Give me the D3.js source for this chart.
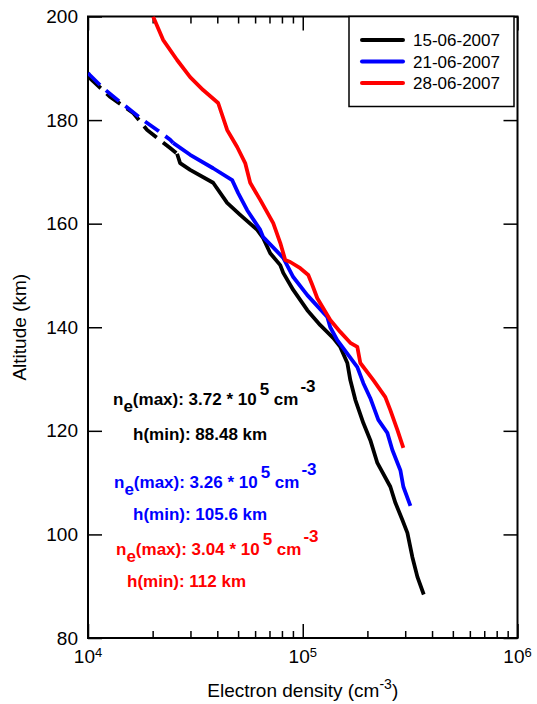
<!DOCTYPE html>
<html>
<head>
<meta charset="utf-8">
<script src="https://cdn.jsdelivr.net/npm/d3@7/dist/d3.min.js"></script>
<style>
  html, body { margin: 0; padding: 0; background: #fff; }
  svg { display: block; font-family: "Liberation Sans", Arial, sans-serif; }
</style>
</head>
<body>
<svg id="chart" width="537" height="704"></svg>
<script>
// ---------------- DATA ----------------
const dates = ["15-06-2007", "21-06-2007", "28-06-2007"];
const colors = ["#000000", "#0000ff", "#ff0000"];

// 15-06-2007 (black): dashed part then solid part
const ne15Dashed = [1.00e4, 1.02e4, 1.266e4, 1.621e4, 1.884e4, 2.412e4, 2.599e4];
const h15Dashed  = [188.3, 188.1, 184.5, 181.4, 178.1, 174.6, 173.5];
const ne15 = [2.599e4, 2.685e4, 2.990e4, 3.826e4, 4.446e4, 5.112e4, 6.137e4, 6.545e4, 7.056e4, 7.856e4,
              8.113e4, 9.03e4, 1.050e5, 1.207e5, 1.388e5, 1.495e5, 1.613e5, 1.665e5, 1.757e5, 1.915e5,
              2.064e5, 2.225e5, 2.558e5, 2.700e5, 2.911e5, 3.071e5, 3.240e5, 3.419e5, 3.66e5];
const h15  = [173.5, 171.7, 170.4, 167.9, 164.0, 161.7, 158.8, 157.2, 154.3, 152.0,
              150.5, 147.2, 143.3, 140.4, 137.9, 136.2, 133.1, 129.8, 126.0, 121.5,
              118.2, 113.8, 109.2, 106.1, 102.8, 100.3, 95.6, 91.8, 88.4];

// 21-06-2007 (blue)
const ne21Dashed = [1.00e4, 1.02e4, 1.175e4, 1.410e4, 1.805e4, 2.098e4, 2.412e4, 2.491e4];
const h21Dashed  = [189.1, 188.7, 186.2, 183.5, 180.0, 178.1, 176.2, 175.6];
const ne21 = [2.491e4, 2.990e4, 3.826e4, 4.692e4, 5.005e4, 5.512e4, 6.339e4, 6.545e4, 8.113e4, 9.03e4,
              1.050e5, 1.301e5, 1.343e5, 1.448e5, 1.795e5, 1.915e5, 2.064e5, 2.249e5, 2.477e5, 2.614e5,
              2.848e5, 2.941e5, 3.172e5];
const h21  = [175.6, 173.3, 170.7, 168.4, 165.9, 162.6, 158.8, 157.4, 153.4, 149.7,
              146.2, 142.0, 140.0, 137.5, 132.3, 129.2, 126.3, 122.1, 119.6, 116.3,
              112.4, 109.2, 105.5];

// 28-06-2007 (red)
const ne28 = [2.009e4, 2.237e4, 2.599e4, 2.990e4, 3.437e4, 4.037e4, 4.446e4, 4.950e4, 5.395e4, 5.692e4,
              6.339e4, 7.287e4, 7.856e4, 8.288e4, 8.745e4, 9.734e4, 1.061e5, 1.107e5, 1.169e5, 1.343e5,
              1.495e5, 1.665e5, 1.795e5, 1.854e5, 2.132e5, 2.424e5, 2.558e5, 2.758e5, 2.941e5];
const h28  = [200.0, 195.5, 191.6, 188.3, 185.8, 183.3, 178.1, 174.8, 171.7, 167.9,
              164.6, 160.1, 156.3, 153.0, 152.6, 151.4, 150.1, 148.2, 145.6, 141.4,
              139.1, 137.0, 136.2, 133.1, 129.8, 126.5, 124.0, 120.2, 116.7];

// annotation values
const neMaxMant = ["3.72", "3.26", "3.04"];
const hMin = ["88.48", "105.6", "112"];

// axis ticks
const altTicks = [80, 100, 120, 140, 160, 180, 200];
const decadeExps = [4, 5, 6];

// ---------------- CHART ----------------
const svg = d3.select("#chart");
const L = 88, R = 517.5, T = 16.5, B = 638;
const x = d3.scaleLog().domain([1e4, 1e6]).range([L, R]);
const y = d3.scaleLinear().domain([80, 200]).range([B, T]);

const majorTicks = decadeExps.map(e => Math.pow(10, e));
const minorTicks = [];
decadeExps.slice(0, -1).forEach(e => { for (let k = 2; k <= 9; k++) minorTicks.push(k * Math.pow(10, e)); });
const allXTicks = majorTicks.concat(minorTicks);

// bottom axis
const gB = svg.append("g").attr("transform", `translate(0,${B})`)
  .call(d3.axisBottom(x).tickValues(allXTicks).tickSizeInner(-7).tickSizeOuter(0).tickFormat(""));
// top axis
const gT = svg.append("g").attr("transform", `translate(0,${T})`)
  .call(d3.axisTop(x).tickValues(allXTicks).tickSizeInner(-7).tickSizeOuter(0).tickFormat(""));
[gB, gT].forEach(g => {
  g.select(".domain").remove();
  g.selectAll(".tick line").attr("stroke", "#000").attr("stroke-width", 1.5)
    .filter(d => majorTicks.includes(d)).attr("y2", g === gB ? -14 : 14);
});
// left axis
const gL = svg.append("g").attr("transform", `translate(${L},0)`)
  .call(d3.axisLeft(y).tickValues(altTicks).tickSizeInner(-14).tickSizeOuter(0).tickPadding(10).tickFormat(d3.format("d")));
gL.select(".domain").remove();
gL.selectAll(".tick line").attr("stroke", "#000").attr("stroke-width", 1.5);
gL.selectAll(".tick text").attr("font-size", 19).attr("fill", "#000")
  .attr("font-family", "Liberation Sans, Arial, sans-serif");
// right axis
const gR = svg.append("g").attr("transform", `translate(${R},0)`)
  .call(d3.axisRight(y).tickValues(altTicks).tickSizeInner(-14).tickSizeOuter(0).tickFormat(""));
gR.select(".domain").remove();
gR.selectAll(".tick line").attr("stroke", "#000").attr("stroke-width", 1.5);

// frame
svg.append("rect").attr("x", L).attr("y", T).attr("width", R - L).attr("height", B - T)
  .attr("fill", "none").attr("stroke", "#000").attr("stroke-width", 2);

// x tick labels: 10^n
decadeExps.forEach(e => {
  const t = svg.append("text").attr("x", x(Math.pow(10, e))).attr("y", 663)
    .attr("text-anchor", "middle").attr("font-size", 19).attr("fill", "#000");
  t.append("tspan").text("10");
  t.append("tspan").attr("dy", -6).attr("font-size", 13).text(e);
});

// axis titles
const xt = svg.append("text").attr("x", (L + R) / 2).attr("y", 697)
  .attr("text-anchor", "middle").attr("font-size", 19).attr("fill", "#000");
xt.append("tspan").text("Electron density (cm");
xt.append("tspan").attr("dy", -8).attr("font-size", 14).text("-3");
xt.append("tspan").attr("dy", 8).text(")");

svg.append("text").attr("transform", `translate(26,${(T + B) / 2}) rotate(-90)`)
  .attr("text-anchor", "middle").attr("font-size", 19).attr("fill", "#000").text("Altitude (km)");

// curves
svg.append("clipPath").attr("id", "clip").append("rect")
  .attr("x", L).attr("y", T).attr("width", R - L).attr("height", B - T);
const line = d3.line().x(d => x(d[0])).y(d => y(d[1]));
const zip = (a, b) => a.map((v, i) => [v, b[i]]);
const gC = svg.append("g").attr("clip-path", "url(#clip)");
const series = [
  { pts: zip(ne15, h15), dashed: zip(ne15Dashed, h15Dashed), c: colors[0] },
  { pts: zip(ne21, h21), dashed: zip(ne21Dashed, h21Dashed), c: colors[1] },
  { pts: zip(ne28, h28), dashed: null, c: colors[2] }
];
series.forEach(s => {
  if (s.dashed) {
    gC.append("path").attr("d", line(s.dashed)).attr("fill", "none").attr("stroke", s.c)
      .attr("stroke-width", 3.8).attr("stroke-dasharray", "17,8");
  }
  gC.append("path").attr("d", line(s.pts)).attr("fill", "none").attr("stroke", s.c)
    .attr("stroke-width", 3.8).attr("stroke-linejoin", "round");
});

// legend
svg.append("rect").attr("x", 349).attr("y", T).attr("width", 165).attr("height", 90)
  .attr("fill", "#fff").attr("stroke", "#000").attr("stroke-width", 1.5);
dates.forEach((dt, i) => {
  const ly = 40 + i * 21.5;
  svg.append("line").attr("x1", 362).attr("x2", 403).attr("y1", ly).attr("y2", ly)
    .attr("stroke", colors[i]).attr("stroke-width", 4).attr("stroke-linecap", "round");
  svg.append("text").attr("x", 413).attr("y", ly + 6).attr("font-size", 17).attr("fill", "#000").text(dt);
});

// annotations
const annPos = [
  { nx: 113, ny: 405, hx: 133, hy: 440 },
  { nx: 114, ny: 488, hx: 133, hy: 520 },
  { nx: 116, ny: 555, hx: 127, hy: 587 }
];
annPos.forEach((p, i) => {
  const fs = 17;
  const t = svg.append("text").attr("x", p.nx).attr("y", p.ny).attr("font-size", fs)
    .attr("font-weight", "bold").attr("fill", colors[i]);
  t.append("tspan").text("n");
  t.append("tspan").attr("dy", 7).text("e");
  t.append("tspan").attr("dy", -7).text(`(max): ${neMaxMant[i]} * 10`);
  t.append("tspan").attr("dy", -10).attr("dx", 3).text("5");
  t.append("tspan").attr("dy", 10).text(" cm");
  t.append("tspan").attr("dy", -13).attr("dx", 2).text("-3");
  svg.append("text").attr("x", p.hx).attr("y", p.hy).attr("font-size", fs)
    .attr("font-weight", "bold").attr("fill", colors[i]).text(`h(min): ${hMin[i]} km`);
});
</script>
</body>
</html>
